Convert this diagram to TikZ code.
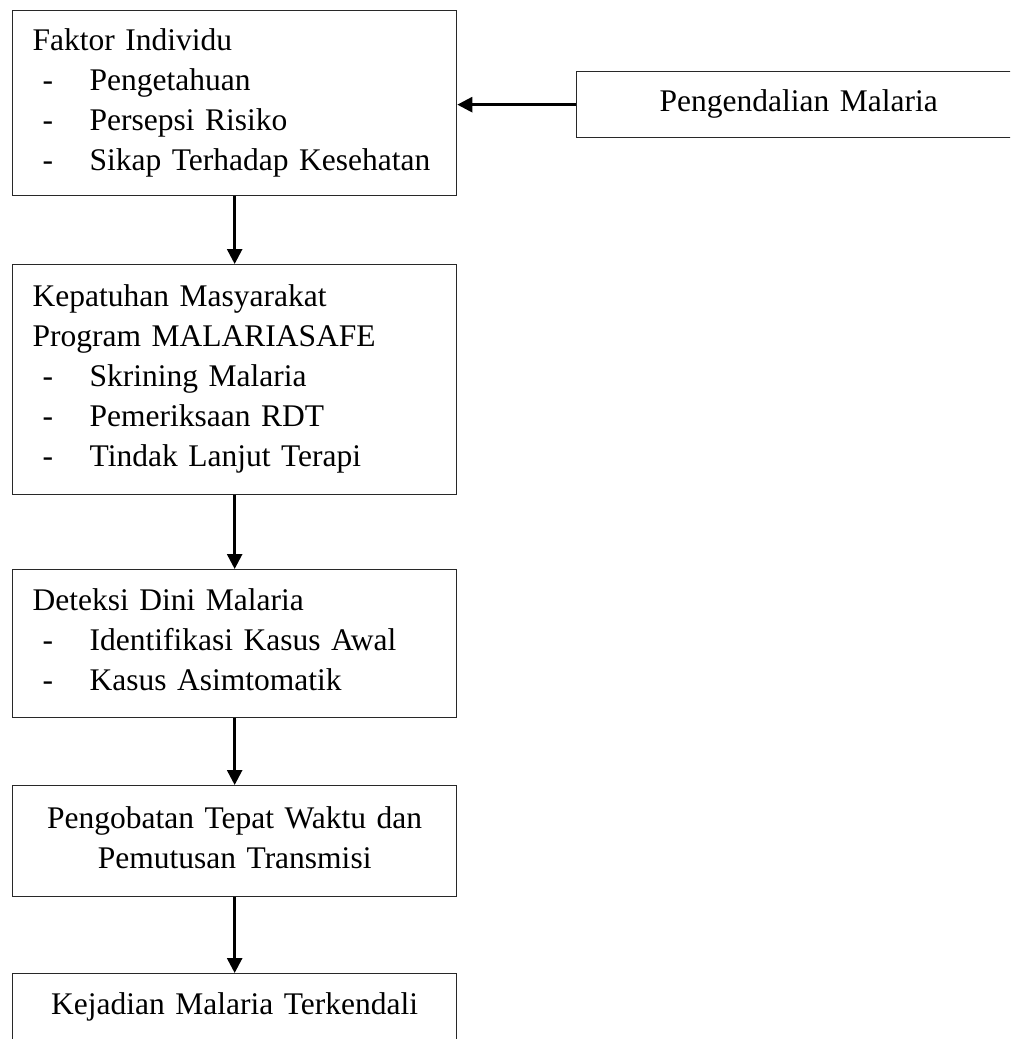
\documentclass[tikz,border=0pt]{standalone}
\usepackage{fontspec}
\setmainfont{Liberation Serif}
\usetikzlibrary{arrows.meta}
\definecolor{box_gray}{RGB}{40,40,40}
\newcommand{\lnstrut}{\rule[-8pt]{0pt}{30pt}}
\newcommand{\itm}[1]{\lnstrut\makebox[57pt][l]{\hspace*{10pt}-}#1}

\begin{document}
\begin{tikzpicture}[x=1pt,y=-1pt,>={Triangle[length=15pt,width=15pt]}]
    \tikzstyle{box}=[draw=box_gray, line width=1.3pt, rectangle, anchor=north west, inner xsep=20pt, inner ysep=0pt, text width=404pt, align=left, text=black, font=\fontsize{31.5}{40}\selectfont]
    \tikzstyle{cbox}=[box, align=center]
    \tikzstyle{flow}=[->, line width=2.7pt, black]

    \useasboundingbox (0,0) rectangle (1010,1039);
    \clip (0,0) rectangle (1010,1039);

    \node[box, minimum height=185pt]  (indiv)  at (12,10)  {\lnstrut Faktor Individu\\ \itm{Pengetahuan}\\ \itm{Persepsi Risiko}\\ \itm{Sikap Terhadap Kesehatan}};
    \node[box, minimum height=230pt]  (patuh)  at (12,264) {\lnstrut Kepatuhan Masyarakat\\ \lnstrut Program MALARIASAFE\\ \itm{Skrining Malaria}\\ \itm{Pemeriksaan RDT}\\ \itm{Tindak Lanjut Terapi}};
    \node[box, minimum height=148pt]  (deteksi) at (12,569) {\lnstrut Deteksi Dini Malaria\\ \itm{Identifikasi Kasus Awal}\\ \itm{Kasus Asimtomatik}};
    \node[cbox, minimum height=111pt] (obat)   at (12,785) {\lnstrut Pengobatan Tepat Waktu dan\\ \lnstrut Pemutusan Transmisi};
    \node[cbox, minimum height=68pt]  (hasil)  at (12,973) {\lnstrut Kejadian Malaria Terkendali};
    \node[cbox, minimum height=66pt]  (kendali) at (576,71) {\lnstrut Pengendalian Malaria};

    \path
     (kendali.west) edge[flow] (kendali.west -| indiv.east)
     (indiv)   edge[flow] (patuh)
     (patuh)   edge[flow] (deteksi)
     (deteksi) edge[flow] (obat)
     (obat)    edge[flow] (hasil)
     ;
\end{tikzpicture}
\end{document}
